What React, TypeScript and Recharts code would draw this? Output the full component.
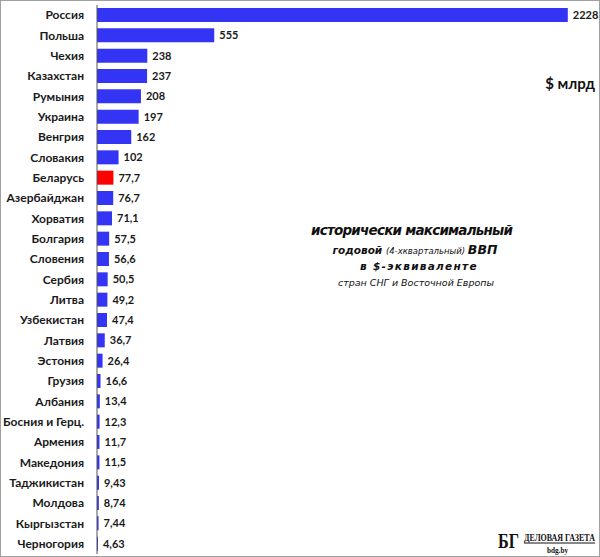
import { BarChart, Bar, XAxis, YAxis, Cell, LabelList } from 'recharts';

const countries = [
  'Россия', 'Польша', 'Чехия', 'Казахстан', 'Румыния', 'Украина', 'Венгрия',
  'Словакия', 'Беларусь', 'Азербайджан', 'Хорватия', 'Болгария', 'Словения',
  'Сербия', 'Литва', 'Узбекистан', 'Латвия', 'Эстония', 'Грузия', 'Албания',
  'Босния и Герц.', 'Армения', 'Македония', 'Таджикистан', 'Молдова',
  'Кыргызстан', 'Черногория',
];

const gdp = [
  2228, 555, 238, 237, 208, 197, 162, 102, 77.7, 76.7, 71.1, 57.5, 56.6, 50.5,
  49.2, 47.4, 36.7, 26.4, 16.6, 13.4, 12.3, 11.7, 11.5, 9.43, 8.74, 7.44, 4.63,
];

const highlight = 'Беларусь';

const data = countries.map((name, i) => ({ name, value: gdp[i] }));

const FONT = 'Lato, "Open Sans", sans-serif';
const NOTE_FONT = '"DejaVu Sans", sans-serif';

// category label drawn by hand so long names do not wrap
const CountryTick = (props: any) => {
  const { x, y, payload } = props;
  return (
    <text
      x={x}
      y={y}
      dy="0.36em"
      textAnchor="end"
      fill="#1a1a1a"
      fontSize={12}
      fontWeight={700}
      fontFamily={FONT}
    >
      {payload.value}
    </text>
  );
};

export default function App() {
  return (
    <div
      style={{
        position: 'absolute',
        left: 0,
        top: 0,
        width: 600,
        height: 557,
        border: '1px solid #a0a0a0',
        boxSizing: 'border-box',
        background: '#fff',
        fontFamily: FONT,
      }}
    >
      <div style={{ position: 'absolute', left: -1, top: -1 }}>
        <BarChart
          width={600}
          height={557}
          data={data}
          layout="vertical"
          margin={{ top: 5, right: 17, left: 0, bottom: 3 }}
        >
          <XAxis type="number" domain={[0, 2300]} hide />
          <YAxis
            type="category"
            dataKey="name"
            width={97}
            tickLine={false}
            tickSize={0}
            tickMargin={13}
            axisLine={{ stroke: '#555', strokeWidth: 1 }}
            interval={0}
            tick={<CountryTick />}
          />
          <Bar dataKey="value" barSize={14} isAnimationActive={false}>
            {data.map((d) => (
              <Cell key={d.name} fill={d.name === highlight ? '#ff0000' : '#3434f5'} />
            ))}
            <LabelList
              dataKey="value"
              position="right"
              offset={5}
              formatter={(v: number) => String(v).replace('.', ',')}
              style={{ fill: '#1a1a1a', fontSize: 11, fontWeight: 700, fontFamily: FONT }}
            />
          </Bar>
        </BarChart>
      </div>

      <div
        style={{
          position: 'absolute',
          right: 4,
          top: 73,
          fontSize: 15,
          fontWeight: 700,
          color: '#111',
        }}
      >
        $ млрд
      </div>

      <svg
        width={600}
        height={557}
        style={{ position: 'absolute', left: -1, top: -1, pointerEvents: 'none' }}
      >
        <g fill="#111" fontFamily={NOTE_FONT} fontStyle="italic" textAnchor="middle">
          <text x={412} y={235} fontSize={13.5} fontWeight={700} textLength={202}>
            исторически максимальный
          </text>
          <text x={415} y={254} fontWeight={700}>
            <tspan fontSize={10.5}>годовой </tspan>
            <tspan fontSize={8.5} fontWeight={400}>(4-хквартальный) </tspan>
            <tspan fontSize={12.5}> ВВП</tspan>
          </text>
          <text x={419} y={270} fontSize={10.5} fontWeight={700} letterSpacing={1.3}>
            в $-эквиваленте
          </text>
          <text x={416} y={286} fontSize={9.5} fontWeight={400}>
            стран СНГ и Восточной Европы
          </text>
        </g>
        <g fill="#111" fontFamily='"Liberation Serif", "DejaVu Serif", serif' fontWeight={700}>
          <text x={498} y={548} fontSize={22} textLength={21} lengthAdjust="spacingAndGlyphs">
            БГ
          </text>
          <text x={524} y={541} fontSize={11} textLength={71} lengthAdjust="spacingAndGlyphs">
            ДЕЛОВАЯ ГАЗЕТА
          </text>
          <line x1={524} y1={543} x2={595} y2={543} stroke="#111" strokeWidth={1} />
          <text x={547} y={553} fontSize={9} textLength={21} lengthAdjust="spacingAndGlyphs">
            bdg.by
          </text>
        </g>
      </svg>
    </div>
  );
}
